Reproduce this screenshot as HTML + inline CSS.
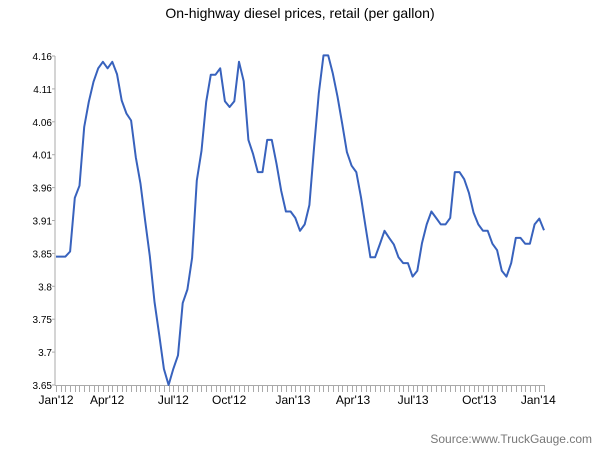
<!DOCTYPE html>
<html><head><meta charset="utf-8">
<style>
body{margin:0;background:#fff;}
svg{display:block;font-family:"Liberation Sans",sans-serif;}
</style></head>
<body>
<svg id="chart" width="600" height="450" viewBox="0 0 600 450">
<text x="300" y="18" font-size="14" text-anchor="middle" fill="#000">On-highway diesel prices, retail (per gallon)</text>
<g id="axes"></g>
<path id="line" fill="none" stroke="#3862bd" stroke-width="2" stroke-linejoin="round"></path>
<text x="592" y="443" font-size="12" text-anchor="end" fill="#777">Source:www.TruckGauge.com</text>
</svg>
<script>
const prices = [3.849,3.849,3.849,3.857,3.940,3.959,4.050,4.089,4.120,4.141,4.151,4.141,4.151,4.132,4.091,4.071,4.060,4.003,3.962,3.904,3.850,3.779,3.728,3.675,3.650,3.675,3.696,3.777,3.798,3.847,3.967,4.013,4.089,4.131,4.131,4.141,4.090,4.081,4.090,4.151,4.121,4.030,4.008,3.980,3.980,4.030,4.030,3.993,3.951,3.919,3.919,3.909,3.889,
3.899,3.929,4.019,4.102,4.161,4.161,4.133,4.097,4.055,4.011,3.990,3.980,3.941,3.894,3.848,3.848,3.868,3.889,3.878,3.868,3.848,3.839,3.839,3.818,3.827,3.870,3.899,3.919,3.909,3.899,3.899,3.909,3.980,3.980,3.969,3.948,3.917,3.899,3.889,3.889,3.869,3.859,3.827,3.818,3.839,3.878,3.878,3.869,3.869,3.899,3.908,3.890];
const yTickLabels = ["3.65","3.7","3.75","3.8","3.85","3.91","3.96","4.01","4.06","4.11","4.16"];
const xLabels = ["Jan'12","Apr'12","Jul'12","Oct'12","Jan'13","Apr'13","Jul'13","Oct'13","Jan'14"];
const xLabelWeeks = [0,10.9,25,36.9,50.5,63.3,76.1,90.2,102.8];
const yMin = 3.65, yMax = 4.16;

const X0=56, X1=544, Y0=385, Y1=56;
const n = prices.length;
const xs = i => X0 + i*(X1-X0)/(n-1);
const ys = v => Y0 - (v-yMin)/(yMax-yMin)*(Y0-Y1);
const NS="http://www.w3.org/2000/svg";
const axes=document.getElementById('axes');
function mk(tag,attrs){const e=document.createElementNS(NS,tag);for(const k in attrs)e.setAttribute(k,attrs[k]);return e;}

const yAxis=mk('line',{x1:X0-1,y1:Y1,x2:X0-1,y2:Y0,stroke:'#aaa','stroke-width':1});


axes.appendChild(yAxis);
const xAxis=mk('line',{x1:X0-1,y1:Y0+0.5,x2:X1,y2:Y0+0.5,stroke:'#aaa','stroke-width':1});


axes.appendChild(xAxis);

yTickLabels.forEach((t,i)=>{
  const v=yMin+i*(yMax-yMin)/(yTickLabels.length-1);
  const y=ys(v);
  const tk=mk('line',{x1:X0-4,y1:y,x2:X0-1,y2:y,stroke:'#aaa'});
  
  
  axes.appendChild(tk);
  const tx=mk('text',{x:X0-4,y:y+4,'font-size':10,'text-anchor':'end',fill:'#000'});
  tx.textContent=t;
  
  
  axes.appendChild(tx);
});
for(let i=0;i<n;i++){
  const x=Math.round(xs(i))+0.5;
  const tk=mk('line',{x1:x,y1:Y0,x2:x,y2:Y0+7,stroke:'#aaa','stroke-width':1});
  
  
  axes.appendChild(tk);
}
xLabels.forEach((t,i)=>{
  const tx=mk('text',{x:xs(xLabelWeeks[i]),y:404,'font-size':12,'text-anchor':'middle',fill:'#000'});
  tx.textContent=t;
  
  
  axes.appendChild(tx);
});
document.getElementById('line').setAttribute('d',prices.map((v,i)=>(i?'L':'M')+xs(i).toFixed(1)+','+ys(v).toFixed(1)).join(''));
</script>
</body></html>
